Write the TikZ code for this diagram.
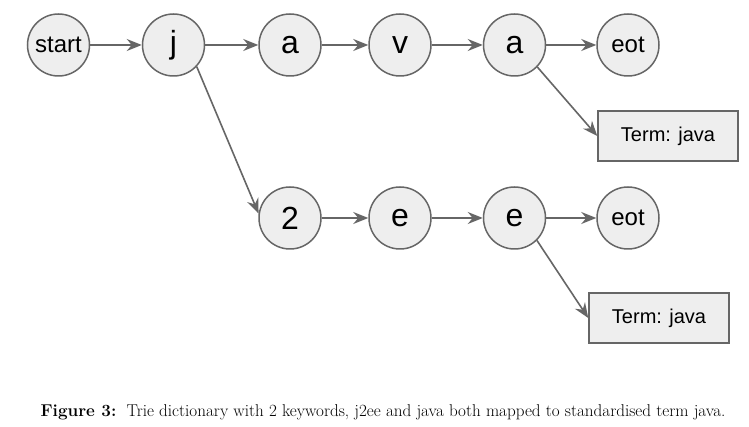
\documentclass[tikz,border=0pt]{standalone}
\usepackage{fontspec}
\newfontfamily\arialfont{Liberation Sans}
\usetikzlibrary{arrows.meta}
\definecolor{nodefill}{HTML}{EEEEEE}
\definecolor{nodeline}{HTML}{666666}
\begin{document}
\begin{tikzpicture}[x=1pt,y=-1pt,
  st/.style={circle,draw=nodeline,fill=nodefill,line width=1.5pt,minimum size=62pt,inner sep=0pt,font=\arialfont\fontsize{32}{34}\selectfont},
  smallst/.style={st,font=\arialfont\fontsize{24}{26}\selectfont},
  term/.style={rectangle,draw=nodeline,fill=nodefill,line width=1.5pt,minimum width=140pt,minimum height=50pt,inner sep=0pt,font=\arialfont\fontsize{20}{22}\selectfont},
  edge/.style={draw=nodeline,line width=1.6pt,-{Stealth[length=15pt,width=12pt,inset=5pt]}}]
\useasboundingbox (0,0) rectangle (749,427);
\fill[white] (0,0) rectangle (749,427);
\node[smallst] (start) at (58.5,45) {start};
\node[st] (j) at (173.5,45) {j};
\node[st] (a1) at (290,45) {a};
\node[st] (v) at (400,45) {v};
\node[st] (a2) at (514.5,45) {a};
\node[smallst] (eot1) at (628,45) {eot};
\node[term] (t1) at (668,136) {Term: java};
\node[st] (n2) at (290,218) {2};
\node[st] (e1) at (400,218) {e};
\node[st] (e2) at (514.5,218) {e};
\node[smallst] (eot2) at (628,218) {eot};
\node[term] (t2) at (659,318) {Term: java};
\draw[edge] (start) -- (j);
\draw[edge] (j) -- (a1);
\draw[edge] (a1) -- (v);
\draw[edge] (v) -- (a2);
\draw[edge] (a2) -- (eot1);
\draw[edge] (a2.-44) -- (t1.west);
\draw[edge] (j.-43) -- (n2.172);
\draw[edge] (n2) -- (e1);
\draw[edge] (e1) -- (e2);
\draw[edge] (e2) -- (eot2);
\draw[edge] (e2.-45) -- (t2.west);
\node[anchor=base,font=\fontsize{17.1}{20}\selectfont,inner sep=0pt] (cap) at (383,416) {\textbf{Figure 3:}\ \ Trie dictionary with 2 keywords, j2ee and java both mapped to standardised term java.};
\end{tikzpicture}
\end{document}
